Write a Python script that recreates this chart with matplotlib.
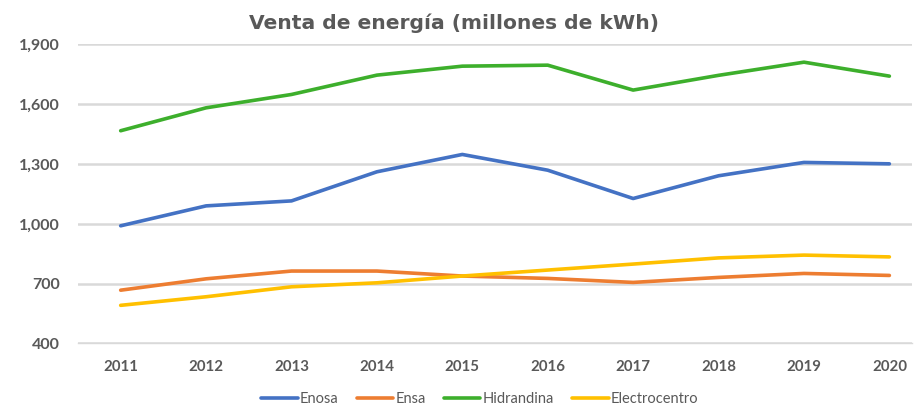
import numpy as np
import matplotlib.pyplot as plt

years = [2011, 2012, 2013, 2014, 2015, 2016, 2017, 2018, 2019, 2020]
enosa = [990, 1090, 1115, 1261, 1348, 1269, 1127, 1241, 1308, 1301]
ensa = [667, 724, 763, 763, 738, 726, 706, 731, 751, 741]
hidrandina = [1467, 1582, 1649, 1746, 1791, 1796, 1671, 1745, 1811, 1741]
electrocentro = [591, 634, 684, 704, 738, 768, 798, 829, 843, 834]

series = [
    ('Enosa', enosa, '#4472C4'),
    ('Ensa', ensa, '#ED7D31'),
    ('Hidrandina', hidrandina, '#3DAF2C'),
    ('Electrocentro', electrocentro, '#FFC000'),
]

txt = '#595959'

fig = plt.figure(figsize=(9.14, 4.04), dpi=100)
ax = fig.add_axes([0.0853, 0.150, 0.913, 0.740])

for name, vals, col in series:
    ax.plot(years, vals, color=col, linewidth=2.6, label=name,
            solid_capstyle='round', solid_joinstyle='round')

ax.set_ylim(400, 1900)
ax.set_yticks([400, 700, 1000, 1300, 1600, 1900])
ax.set_xlim(2010.5, 2020.27)
ax.set_xticks(years)
ax.yaxis.set_major_formatter(plt.FuncFormatter(lambda v, p: f'{int(v):,}'))
ax.grid(axis='y', color='#D9D9D9', linewidth=1.8)
ax.set_axisbelow(True)
for s in ['top', 'right', 'left']:
    ax.spines[s].set_visible(False)
ax.spines['bottom'].set_color('#D9D9D9')
ax.spines['bottom'].set_linewidth(1.0)
ax.tick_params(length=0, colors=txt)
ax.tick_params(axis='x', pad=12, labelsize=10.8)
ax.tick_params(axis='y', pad=13, labelsize=11.5)
for lab in ax.get_xticklabels() + ax.get_yticklabels():
    lab.set_fontfamily('Lato')
    lab.set_fontweight('bold')

fig.text(0.497, 0.943, 'Venta de energía (millones de kWh)', ha='center', va='center',
         fontsize=14.6, fontweight='bold', color=txt, family='DejaVu Sans')

leg = fig.legend(loc='lower center', bbox_to_anchor=(0.525, -0.037), ncol=4,
                 frameon=False, handlelength=2.5, handletextpad=0.15,
                 columnspacing=1.25, prop={'family': 'Lato', 'size': 10.5})
for t in leg.get_texts():
    t.set_color(txt)

fig.savefig('out.png', dpi=100)
